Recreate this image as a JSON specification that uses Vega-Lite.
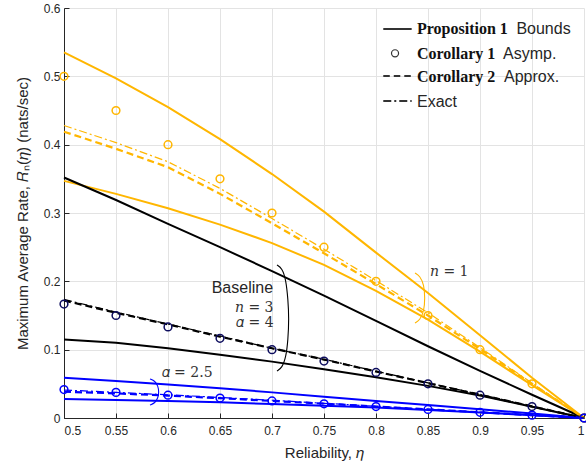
{
  "$schema": "https://vega.github.io/schema/vega-lite/v6.json",
  "width": 520,
  "height": 410,
  "autosize": {"type": "none"},
  "padding": {"left": 64, "top": 8, "right": 2, "bottom": 48},
  "background": "white",
  "config": {
    "view": {"stroke": null},
    "axis": {
      "labelFont": "Liberation Sans",
      "labelFontSize": 12,
      "labelColor": "#262626",
      "titleFont": "Liberation Sans",
      "titleFontSize": 15,
      "titleFontWeight": "normal",
      "titleColor": "#262626",
      "gridColor": "#e3e3e3",
      "gridWidth": 1,
      "domainColor": "#262626",
      "tickColor": "#262626",
      "tickSize": -5
    }
  },
  "datasets": {
    "curves": [
      {"eta": 0.5, "g": "n1", "hi": 0.535, "lo": 0.347, "ap": 0.419, "ex": 0.428, "as": 0.5},
      {"eta": 0.55, "g": "n1", "hi": 0.497, "lo": 0.328, "ap": 0.394, "ex": 0.403, "as": 0.45},
      {"eta": 0.6, "g": "n1", "hi": 0.455, "lo": 0.307, "ap": 0.367, "ex": 0.375, "as": 0.4},
      {"eta": 0.65, "g": "n1", "hi": 0.408, "lo": 0.283, "ap": 0.328, "ex": 0.336, "as": 0.35},
      {"eta": 0.7, "g": "n1", "hi": 0.357, "lo": 0.256, "ap": 0.285, "ex": 0.292, "as": 0.3},
      {"eta": 0.75, "g": "n1", "hi": 0.302, "lo": 0.224, "ap": 0.241, "ex": 0.247, "as": 0.25},
      {"eta": 0.8, "g": "n1", "hi": 0.242, "lo": 0.186, "ap": 0.196, "ex": 0.201, "as": 0.2},
      {"eta": 0.85, "g": "n1", "hi": 0.183, "lo": 0.144, "ap": 0.15, "ex": 0.154, "as": 0.15},
      {"eta": 0.9, "g": "n1", "hi": 0.121, "lo": 0.097, "ap": 0.101, "ex": 0.103, "as": 0.1},
      {"eta": 0.95, "g": "n1", "hi": 0.059, "lo": 0.048, "ap": 0.05, "ex": 0.051, "as": 0.05},
      {"eta": 1.0, "g": "n1", "hi": 0, "lo": 0, "ap": 0, "ex": 0, "as": 0},
      {"eta": 0.5, "g": "base", "hi": 0.352, "lo": 0.115, "ap": 0.172, "ex": 0.1735, "as": 0.1667},
      {"eta": 0.55, "g": "base", "hi": 0.319, "lo": 0.11, "ap": 0.154, "ex": 0.155, "as": 0.15},
      {"eta": 0.6, "g": "base", "hi": 0.284, "lo": 0.102, "ap": 0.137, "ex": 0.1375, "as": 0.1333},
      {"eta": 0.65, "g": "base", "hi": 0.25, "lo": 0.0925, "ap": 0.119, "ex": 0.12, "as": 0.1167},
      {"eta": 0.7, "g": "base", "hi": 0.215, "lo": 0.0825, "ap": 0.102, "ex": 0.102, "as": 0.1},
      {"eta": 0.75, "g": "base", "hi": 0.179, "lo": 0.0715, "ap": 0.0855, "ex": 0.086, "as": 0.0833},
      {"eta": 0.8, "g": "base", "hi": 0.142, "lo": 0.0595, "ap": 0.068, "ex": 0.0685, "as": 0.0667},
      {"eta": 0.85, "g": "base", "hi": 0.105, "lo": 0.047, "ap": 0.051, "ex": 0.0515, "as": 0.05},
      {"eta": 0.9, "g": "base", "hi": 0.069, "lo": 0.033, "ap": 0.034, "ex": 0.0345, "as": 0.0333},
      {"eta": 0.95, "g": "base", "hi": 0.034, "lo": 0.0165, "ap": 0.017, "ex": 0.017, "as": 0.0167},
      {"eta": 1.0, "g": "base", "hi": 0, "lo": 0, "ap": 0, "ex": 0, "as": 0},
      {"eta": 0.5, "g": "a25", "hi": 0.059, "lo": 0.0278, "ap": 0.0385, "ex": 0.041, "as": 0.0417},
      {"eta": 0.55, "g": "a25", "hi": 0.054, "lo": 0.0263, "ap": 0.036, "ex": 0.0375, "as": 0.0375},
      {"eta": 0.6, "g": "a25", "hi": 0.049, "lo": 0.0248, "ap": 0.0328, "ex": 0.034, "as": 0.0333},
      {"eta": 0.65, "g": "a25", "hi": 0.0435, "lo": 0.0229, "ap": 0.029, "ex": 0.03, "as": 0.0292},
      {"eta": 0.7, "g": "a25", "hi": 0.0375, "lo": 0.0205, "ap": 0.025, "ex": 0.026, "as": 0.025},
      {"eta": 0.75, "g": "a25", "hi": 0.031, "lo": 0.018, "ap": 0.021, "ex": 0.0215, "as": 0.0208},
      {"eta": 0.8, "g": "a25", "hi": 0.025, "lo": 0.0152, "ap": 0.0168, "ex": 0.0172, "as": 0.0167},
      {"eta": 0.85, "g": "a25", "hi": 0.019, "lo": 0.0118, "ap": 0.0126, "ex": 0.0128, "as": 0.0125},
      {"eta": 0.9, "g": "a25", "hi": 0.0128, "lo": 0.008, "ap": 0.0084, "ex": 0.0086, "as": 0.0083},
      {"eta": 0.95, "g": "a25", "hi": 0.0065, "lo": 0.004, "ap": 0.0042, "ex": 0.0043, "as": 0.0042},
      {"eta": 1.0, "g": "a25", "hi": 0, "lo": 0, "ap": 0, "ex": 0, "as": 0}
    ],
    "brackets": [
      {"g": "base", "o": 1, "eta": 0.7048, "v": 0.2239},
      {"g": "base", "o": 2, "eta": 0.7096, "v": 0.2195},
      {"g": "base", "o": 3, "eta": 0.7135, "v": 0.202},
      {"g": "base", "o": 4, "eta": 0.7154, "v": 0.1727},
      {"g": "base", "o": 5, "eta": 0.7163, "v": 0.1463},
      {"g": "base", "o": 6, "eta": 0.7154, "v": 0.1142},
      {"g": "base", "o": 7, "eta": 0.7135, "v": 0.0893},
      {"g": "base", "o": 8, "eta": 0.7096, "v": 0.0732},
      {"g": "base", "o": 9, "eta": 0.7048, "v": 0.0688},
      {"g": "n1", "o": 1, "eta": 0.8375, "v": 0.2122},
      {"g": "n1", "o": 2, "eta": 0.8423, "v": 0.2078},
      {"g": "n1", "o": 3, "eta": 0.8462, "v": 0.1946},
      {"g": "n1", "o": 4, "eta": 0.8471, "v": 0.1756},
      {"g": "n1", "o": 5, "eta": 0.8462, "v": 0.1566},
      {"g": "n1", "o": 6, "eta": 0.8423, "v": 0.1434},
      {"g": "n1", "o": 7, "eta": 0.8375, "v": 0.139},
      {"g": "a25", "o": 1, "eta": 0.5827, "v": 0.0571},
      {"g": "a25", "o": 2, "eta": 0.5875, "v": 0.0541},
      {"g": "a25", "o": 3, "eta": 0.5904, "v": 0.0468},
      {"g": "a25", "o": 4, "eta": 0.5913, "v": 0.0381},
      {"g": "a25", "o": 5, "eta": 0.5904, "v": 0.0293},
      {"g": "a25", "o": 6, "eta": 0.5875, "v": 0.022},
      {"g": "a25", "o": 7, "eta": 0.5827, "v": 0.019}
    ],
    "mathlabels": [
      {"eta": 0.6644, "v": 0.1614, "t": "𝑛 = 3"},
      {"eta": 0.6654, "v": 0.1386, "t": "𝛼 = 4"},
      {"eta": 0.5939, "v": 0.0654, "t": "𝛼 = 2.5"},
      {"eta": 0.8519, "v": 0.2141, "t": "𝑛 = 1"}
    ],
    "legendlines": [
      {"eta": 0.807, "eta2": 0.8343, "v": 0.5693, "k": "solid"},
      {"eta": 0.807, "eta2": 0.8343, "v": 0.5005, "k": "dash"},
      {"eta": 0.807, "eta2": 0.8343, "v": 0.4639, "k": "dashdot"}
    ],
    "legendbold": [
      {"eta": 0.8394, "v": 0.5689, "t": "Proposition 1"},
      {"eta": 0.8394, "v": 0.5327, "t": "Corollary 1"},
      {"eta": 0.8394, "v": 0.499, "t": "Corollary 2"}
    ],
    "legendplain": [
      {"eta": 0.935, "v": 0.5689, "t": "Bounds"},
      {"eta": 0.9221, "v": 0.5327, "t": "Asymp."},
      {"eta": 0.9231, "v": 0.499, "t": "Approx."},
      {"eta": 0.8394, "v": 0.4625, "t": "Exact"},
      {"eta": 0.642, "v": 0.1907, "t": "Baseline"}
    ]
  },
  "encoding": {
    "x": {
      "field": "eta",
      "type": "quantitative",
      "scale": {"domain": [0.5, 1], "nice": false, "zero": false},
      "axis": {
        "values": [0.5, 0.55, 0.6, 0.65, 0.7, 0.75, 0.8, 0.85, 0.9, 0.95, 1],
        "format": "~g",
        "title": "Reliability, 𝜂",
        "labelPadding": 12,
        "titlePadding": 9
      }
    },
    "y": {
      "field": "v",
      "type": "quantitative",
      "scale": {"domain": [0, 0.6], "nice": false},
      "axis": {
        "values": [0, 0.1, 0.2, 0.3, 0.4, 0.5, 0.6],
        "format": "~g",
        "title": "Maximum Average Rate, 𝑅ₙ(𝜂) (nats/sec)",
        "labelPadding": 9,
        "titlePadding": 13
      }
    }
  },
  "layer": [
    {
      "data": {"name": "curves"},
      "transform": [
        {"fold": ["hi", "lo", "ap", "ex", "as"], "as": ["kind", "v"]},
        {"filter": "datum.kind === 'hi' || datum.kind === 'lo'"}
      ],
      "mark": {"type": "line", "strokeWidth": 2},
      "encoding": {
        "color": {"field": "g", "type": "nominal", "legend": null,
          "scale": {"domain": ["n1", "base", "a25"], "range": ["#FFB600", "#000000", "#0000FF"]}},
        "detail": {"field": "kind"}
      }
    },
    {
      "data": {"name": "curves"},
      "transform": [
        {"fold": ["hi", "lo", "ap", "ex", "as"], "as": ["kind", "v"]},
        {"filter": "datum.kind === 'ap'"}
      ],
      "mark": {"type": "line", "strokeWidth": 2.2, "strokeDash": [7, 4]},
      "encoding": {
        "color": {"field": "g", "type": "nominal", "legend": null,
          "scale": {"domain": ["n1", "base", "a25"], "range": ["#FFB600", "#000000", "#0000FF"]}}
      }
    },
    {
      "data": {"name": "curves"},
      "transform": [
        {"fold": ["hi", "lo", "ap", "ex", "as"], "as": ["kind", "v"]},
        {"filter": "datum.kind === 'ex'"}
      ],
      "mark": {"type": "line", "strokeWidth": 1.2, "strokeDash": [8, 3, 2, 3]},
      "encoding": {
        "color": {"field": "g", "type": "nominal", "legend": null,
          "scale": {"domain": ["n1", "base", "a25"], "range": ["#FFB600", "#000000", "#0000FF"]}}
      }
    },
    {
      "data": {"name": "curves"},
      "transform": [
        {"fold": ["hi", "lo", "ap", "ex", "as"], "as": ["kind", "v"]},
        {"filter": "datum.kind === 'as'"}
      ],
      "mark": {"type": "point", "shape": "circle", "filled": false, "size": 60, "strokeWidth": 1.5, "opacity": 1},
      "encoding": {
        "stroke": {"field": "g", "type": "nominal", "legend": null,
          "scale": {"domain": ["n1", "base", "a25"], "range": ["#FFB600", "#0D0D5E", "#0000FF"]}}
      }
    },
    {
      "data": {"name": "brackets"},
      "mark": {"type": "line", "strokeWidth": 1.1, "interpolate": "basis"},
      "encoding": {
        "order": {"field": "o", "type": "quantitative"},
        "detail": {"field": "g"},
        "color": {"field": "g", "type": "nominal", "legend": null,
          "scale": {"domain": ["n1", "base", "a25"], "range": ["#E9A43C", "#000000", "#0000FF"]}}
      }
    },
    {
      "data": {"name": "mathlabels"},
      "mark": {"type": "text", "align": "left", "baseline": "middle", "font": "DejaVu Serif", "fontSize": 14, "color": "#333333"},
      "encoding": {"text": {"field": "t"}}
    },
    {
      "data": {"name": "legendlines"},
      "mark": {"type": "rule", "color": "#333333"},
      "encoding": {
        "x2": {"field": "eta2"},
        "strokeDash": {"field": "k", "type": "nominal", "legend": null,
          "scale": {"domain": ["solid", "dash", "dashdot"], "range": [[1, 0], [6.5, 4], [8, 3, 2, 3]]}},
        "strokeWidth": {"field": "k", "type": "nominal", "legend": null,
          "scale": {"domain": ["solid", "dash", "dashdot"], "range": [2, 2, 1]}}
      }
    },
    {
      "data": {"values": [{"eta": 0.8183, "v": 0.5337}]},
      "mark": {"type": "point", "shape": "circle", "filled": false, "size": 50, "strokeWidth": 1.2, "color": "#333333", "opacity": 1}
    },
    {
      "data": {"name": "legendbold"},
      "mark": {"type": "text", "align": "left", "baseline": "middle", "font": "Liberation Serif", "fontWeight": "bold", "fontSize": 16, "color": "#111111"},
      "encoding": {"text": {"field": "t"}}
    },
    {
      "data": {"name": "legendplain"},
      "mark": {"type": "text", "align": "left", "baseline": "middle", "font": "Liberation Sans", "fontSize": 16, "color": "#262626"},
      "encoding": {"text": {"field": "t"}}
    }
  ]
}
